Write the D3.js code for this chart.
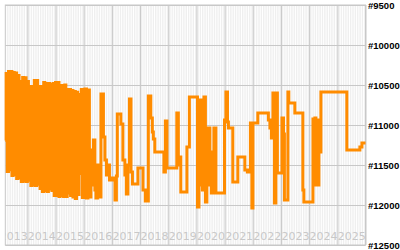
<!DOCTYPE html>
<html>
<head>
<meta charset="utf-8">
<script src="https://cdn.jsdelivr.net/npm/d3@7"></script>
<style>
  body { margin: 0; background: #fff; }
  svg { display: block; }
</style>
</head>
<body>
<svg width="400" height="250"></svg>
<script>
const dates = [
  "2013-03-21", "2013-04-01", "2013-04-15", "2013-05-01", "2013-05-15", "2013-06-01", "2013-06-15",
  "2013-07-01", "2013-07-15", "2013-08-01", "2013-08-15", "2013-09-01", "2013-09-15", "2013-10-01",
  "2013-10-15", "2013-11-01", "2013-11-15", "2013-12-01", "2013-12-15", "2014-01-01", "2014-01-15",
  "2014-02-01", "2014-02-15", "2014-03-01", "2014-03-15", "2014-04-01", "2014-04-15", "2014-05-01",
  "2014-05-15", "2014-06-01", "2014-06-15", "2014-07-01", "2014-07-15", "2014-08-01", "2014-08-15",
  "2014-09-01", "2014-09-15", "2014-10-01", "2014-10-15", "2014-11-01", "2014-11-15", "2014-12-01",
  "2014-12-15", "2015-01-01", "2015-01-15", "2015-02-01", "2015-02-15", "2015-03-01", "2015-03-15",
  "2015-04-01", "2015-04-15", "2015-05-01", "2015-05-15", "2015-06-01", "2015-06-15", "2015-07-01",
  "2015-07-15", "2015-08-01", "2015-08-15", "2015-09-01", "2015-09-15", "2015-10-01", "2015-10-15",
  "2015-11-01", "2015-11-12", "2015-12-01", "2015-12-15",
  "2016-01-17", "2016-02-06", "2016-02-25", "2016-03-15", "2016-04-04", "2016-04-17", "2016-05-06",
  "2016-05-25", "2016-06-08", "2016-06-27", "2016-07-16", "2016-07-29", "2016-08-12", "2016-09-13",
  "2016-10-02", "2016-10-22", "2016-11-11", "2016-11-30",
  "2017-01-02", "2017-02-10", "2017-02-28", "2017-03-12", "2017-04-27", "2017-05-23", "2017-06-18",
  "2017-07-07", "2017-07-27", "2017-08-16", "2017-09-05", "2017-09-24", "2017-12-04",
  "2018-02-08", "2018-03-10", "2018-04-18", "2018-05-20", "2018-06-09", "2018-06-22", "2018-07-11",
  "2018-11-06", "2018-11-25", "2018-12-15",
  "2019-04-22", "2019-05-12", "2019-05-24", "2019-06-13", "2019-08-31", "2019-10-02",
  "2020-01-15", "2020-02-03", "2020-02-22", "2020-03-06", "2020-03-19", "2020-04-08", "2020-04-27",
  "2020-05-16", "2020-06-05", "2020-06-24", "2020-07-13", "2020-08-15", "2020-09-10", "2020-12-30",
  "2021-01-18", "2021-02-07", "2021-02-19", "2021-04-17", "2021-06-21", "2021-09-20", "2021-10-23",
  "2021-12-01", "2021-12-20",
  "2022-01-03", "2022-03-07", "2022-07-22", "2022-08-11", "2022-08-30", "2022-09-19", "2022-10-08",
  "2022-10-27", "2022-11-16",
  "2023-01-14", "2023-02-03", "2023-02-15", "2023-04-01", "2023-04-13", "2023-06-30", "2023-10-12",
  "2023-10-25",
  "2024-02-20", "2024-03-03", "2024-03-16", "2024-03-29", "2024-04-11", "2024-04-24", "2024-05-07",
  "2024-05-20", "2024-06-02",
  "2025-05-04", "2025-10-20", "2025-11-16", "2026-01-01"
];
const values = [
  11194, 10356, 11581, 10331, 11560, 10331, 11631,
  10344, 11620, 10350, 11669, 10381, 11660, 10456,
  11706, 10406, 11700, 10410, 11706, 10456, 11690,
  10519, 11756, 10519, 11750, 10444, 11756, 10444,
  11740, 10519, 11794, 10519, 11831, 10469, 11820,
  10481, 11831, 10481, 11800, 10490, 11819, 10481,
  11881, 10470, 11881, 10469, 11894, 10506, 11880,
  10506, 11894, 10500, 11894, 10556, 11850, 10556,
  11881, 10570, 11900, 10580, 11919, 10590, 11870,
  10619, 11606, 10556, 11906,
  10550, 11912, 10562, 11900, 11312, 11750, 11188,
  11812, 11912, 11500, 11688, 11900, 10612, 11150,
  11438, 11625, 11500, 11688,
  11662, 11938, 11638, 10862, 10988, 11438, 11625,
  11862, 11500, 10675, 11588, 11738, 11538,
  11812, 11950, 10638, 10912, 11088, 11175, 11338,
  11588, 10950, 11538,
  10850, 11500, 11400, 11838, 11275, 10650,
  12025, 10688, 11750, 10688, 11812, 10650, 11962,
  11750, 11038, 11338, 11850, 11038, 11850, 10938,
  10588, 10962, 11038, 11712, 11400, 11562, 11588,
  10975, 12038,
  10975, 10850, 10938, 11038, 11162, 10600, 11975,
  10600, 11600,
  10912, 11112, 11938, 10588, 10725, 10850, 11812,
  11962,
  10925, 11750, 10912, 11688, 10938, 11750, 10962,
  11338, 10588,
  11312, 11275, 11225, 11225
];
const yTicks = [9500, 10000, 10500, 11000, 11500, 12000, 12500];
const yearLabels = [2013, 2014, 2015, 2016, 2017, 2018, 2019, 2020, 2021, 2022, 2023, 2024, 2025];

const parse = d3.timeParse("%Y-%m-%d");
const data = dates.map((d, i) => ({date: parse(d), value: values[i]}));

const plotL = 5.3, plotR = 365.5, plotT = 5, plotB = 245;
const svg = d3.select("svg");

const x = d3.scaleTime()
  .domain([parse("2013-03-21"), parse("2026-01-01")])
  .range([plotL, plotR]);
const y = d3.scaleLinear().domain([9500, 12500]).range([plotT, plotB]);

svg.append("defs").append("clipPath").attr("id", "plot")
  .append("rect").attr("x", plotL).attr("y", plotT)
  .attr("width", plotR - plotL).attr("height", plotB - plotT);

// plot background + month stripes
svg.append("rect").attr("x", plotL).attr("y", plotT)
  .attr("width", plotR - plotL).attr("height", plotB - plotT).attr("fill", "#efefef");

const months = svg.append("g").attr("transform", `translate(0,${plotB})`)
  .call(d3.axisBottom(x).ticks(d3.timeMonth.every(1)).tickSize(-(plotB - plotT)).tickFormat(""));
months.select(".domain").remove();
months.selectAll("line").attr("stroke", "#fff");

// year grid lines
const xGrid = svg.append("g").attr("transform", `translate(0,${plotB})`)
  .call(d3.axisBottom(x).ticks(d3.timeYear.every(1)).tickSize(-(plotB - plotT)).tickFormat(""));
xGrid.select(".domain").remove();
xGrid.selectAll("line").attr("stroke", "#c8c8c8");

// value grid lines
const yGrid = svg.append("g").attr("transform", `translate(${plotL},0)`)
  .call(d3.axisLeft(y).tickValues(yTicks).tickSize(-(plotR - plotL)).tickFormat(""));
yGrid.select(".domain").remove();
yGrid.selectAll("line").attr("stroke", "#c8c8c8");

svg.append("rect").attr("x", plotL).attr("y", plotT)
  .attr("width", plotR - plotL).attr("height", plotB - plotT)
  .attr("fill", "none").attr("stroke", "#c8c8c8");

// year labels, anchored at the start of each year
const xLab = svg.append("g").attr("clip-path", "url(#plot)")
  .append("g").attr("transform", `translate(0,${plotB})`)
  .call(d3.axisBottom(x).tickValues(yearLabels.map(yr => new Date(yr, 0, 1)))
    .tickSize(0).tickFormat(d3.timeFormat("%Y")));
xLab.select(".domain").remove();
xLab.selectAll("text")
  .attr("text-anchor", "start").attr("y", -5).attr("dy", null)
  .attr("fill", "#c8c8c8").attr("font-family", "DejaVu Sans").attr("font-size", 11);

// right value labels
const yAx = svg.append("g").attr("transform", `translate(${plotR},0)`)
  .call(d3.axisRight(y).tickValues(yTicks).tickSize(0).tickPadding(2.5).tickFormat(d => "#" + d));
yAx.select(".domain").remove();
yAx.selectAll("text").attr("fill", "#000").attr("font-family", "Liberation Sans")
  .attr("font-size", 9.5).attr("font-weight", "bold");

svg.append("path").datum(data)
  .attr("fill", "none").attr("stroke", "#ff8c00").attr("stroke-width", 3)
  .attr("d", d3.line().x(d => x(d.date)).y(d => y(d.value)).curve(d3.curveStepAfter));
</script>
</body>
</html>
